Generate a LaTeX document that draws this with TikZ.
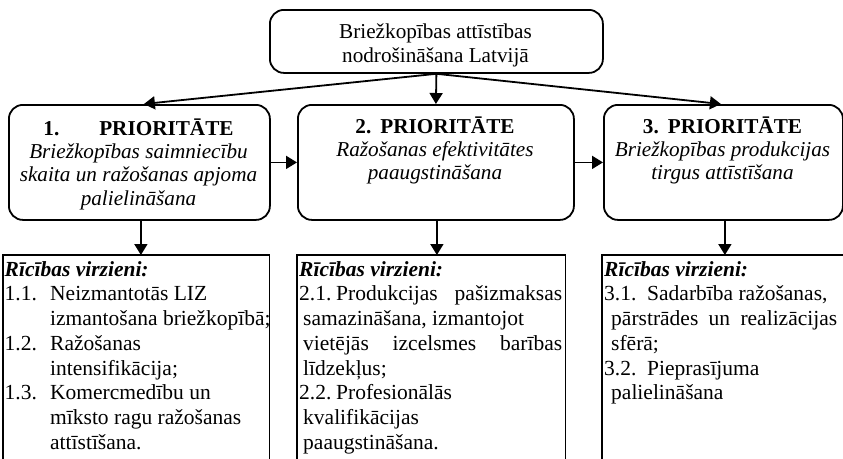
\documentclass[tikz,border=0pt]{standalone}
\usepackage{fontspec}
\setmainfont{Liberation Serif}
\usetikzlibrary{arrows.meta}

% invisible strut fixing the height of a first text line
\newcommand{\firststrut}{\rule{0pt}{18pt}}

\begin{document}
\begin{tikzpicture}[x=1pt,y=-1pt,
  rbox/.style={draw, line width=1.8pt, rounded corners=14pt, inner sep=0pt, anchor=north west},
  area/.style={inner sep=0pt, anchor=north west},
  ctext/.style={inner sep=0pt, anchor=north, align=center, font=\fontsize{21.2}{23.3}\selectfont},
  ltext/.style={inner sep=0pt, anchor=north west, align=left, font=\fontsize{21.5}{24.7}\selectfont},
  conn/.style={line width=1.8pt, -{Triangle[length=11pt,width=13pt]}},
  frame/.style={line width=1.8pt},
]
\useasboundingbox (0,0) rectangle (843,458);

% goal box
\node[rbox, minimum width=333pt, minimum height=63pt] (goal) at (269,9) {};
\node[ctext, font=\fontsize{21.2}{24}\selectfont] (goalT) at (435.5,20)
  {\firststrut Briežkopības attīstības\\nodrošināšana Latvijā};

% priority boxes
\node[rbox, minimum width=261pt, minimum height=115pt] (p1) at (8,104) {};
\node[rbox, minimum width=276pt, minimum height=115pt] (p2) at (297,104) {};
\node[rbox, minimum width=239pt, minimum height=115pt] (p3) at (603,104) {};

\node[ctext] (p1T) at (138.5,117)
  {\firststrut\textbf{1.\hspace{40pt}PRIORITĀTE}\\
   \textit{Briežkopības saimniecību}\\
   \textit{skaita un ražošanas apjoma}\\
   \textit{palielināšana}};
\node[ctext] (p2T) at (435,115)
  {\firststrut\textbf{2.\hspace{9pt}PRIORITĀTE}\\
   \textit{Ražošanas efektivitātes}\\
   \textit{paaugstināšana}};
\node[ctext] (p3T) at (722.5,115)
  {\firststrut\textbf{3.\hspace{9pt}PRIORITĀTE}\\
   \textit{Briežkopības produkcijas}\\
   \textit{tirgus attīstīšana}};

% action areas (open at the bottom)
\node[area, minimum width=266pt, minimum height=210pt] (r1) at (3,255) {};
\node[area, minimum width=268pt, minimum height=210pt] (r2) at (297,255) {};
\node[area, minimum width=250pt, minimum height=210pt] (r3) at (602,255) {};
\draw[frame] (r1.south west) -- (r1.north west) -- (r1.north east) -- (r1.south east);
\draw[frame] (r2.south west) -- (r2.north west) -- (r2.north east) -- (r2.south east);
\draw[frame] (r3.south west) -- (r3.north west) -- (r3.north east);

\node[ltext] (r1T) at (4.5,258)
  {\firststrut\textbf{\textit{Rīcības virzieni:}}\\
   \makebox[45.5pt][l]{1.1.}Neizmantotās LIZ\\
   \hspace*{45.5pt}izmantošana briežkopībā;\\
   \makebox[45.5pt][l]{1.2.}Ražošanas\\
   \hspace*{45.5pt}intensifikācija;\\
   \makebox[45.5pt][l]{1.3.}Komercmedību un\\
   \hspace*{45.5pt}mīksto ragu ražošanas\\
   \hspace*{45.5pt}attīstīšana.};
\node[ltext] (r2T) at (299,258)
  {\firststrut\textbf{\textit{Rīcības virzieni:}}\\
   \makebox[37pt][l]{2.1.}\makebox[226pt][s]{Produkcijas pašizmaksas}\\
   \hspace*{4pt}samazināšana, izmantojot\\
   \hspace*{4pt}\makebox[259pt][s]{vietējās izcelsmes barības}\\
   \hspace*{4pt}līdzekļus;\\
   \makebox[37pt][l]{2.2.}Profesionālās\\
   \hspace*{4pt}kvalifikācijas\\
   \hspace*{4pt}paaugstināšana.};
\node[ltext] (r3T) at (604,258)
  {\firststrut\textbf{\textit{Rīcības virzieni:}}\\
   \makebox[43pt][l]{3.1.}Sadarbība ražošanas,\\
   \hspace*{7pt}\makebox[226pt][s]{pārstrādes un realizācijas}\\
   \hspace*{7pt}sfērā;\\
   \makebox[43pt][l]{3.2.}Pieprasījuma\\
   \hspace*{7pt}palielināšana};

% connectors
\draw[conn] (goal.south) -- ([xshift=4.5pt]p1.north);
\draw[conn] (goal.south) -- (p2.north);
\draw[conn] (goal.south) -- ([xshift=-2.5pt]p3.north);
\draw[conn] (p1.east) -- (p2.west);
\draw[conn] (p2.east) -- (p3.west);
\draw[conn] ([xshift=1.5pt]p1.south) -- ([xshift=1.5pt]p1.south |- r1.north);
\draw[conn] ([xshift=1pt]p2.south) -- ([xshift=1pt]p2.south |- r2.north);
\draw[conn] ([xshift=1.5pt]p3.south) -- ([xshift=1.5pt]p3.south |- r3.north);
\end{tikzpicture}
\end{document}
